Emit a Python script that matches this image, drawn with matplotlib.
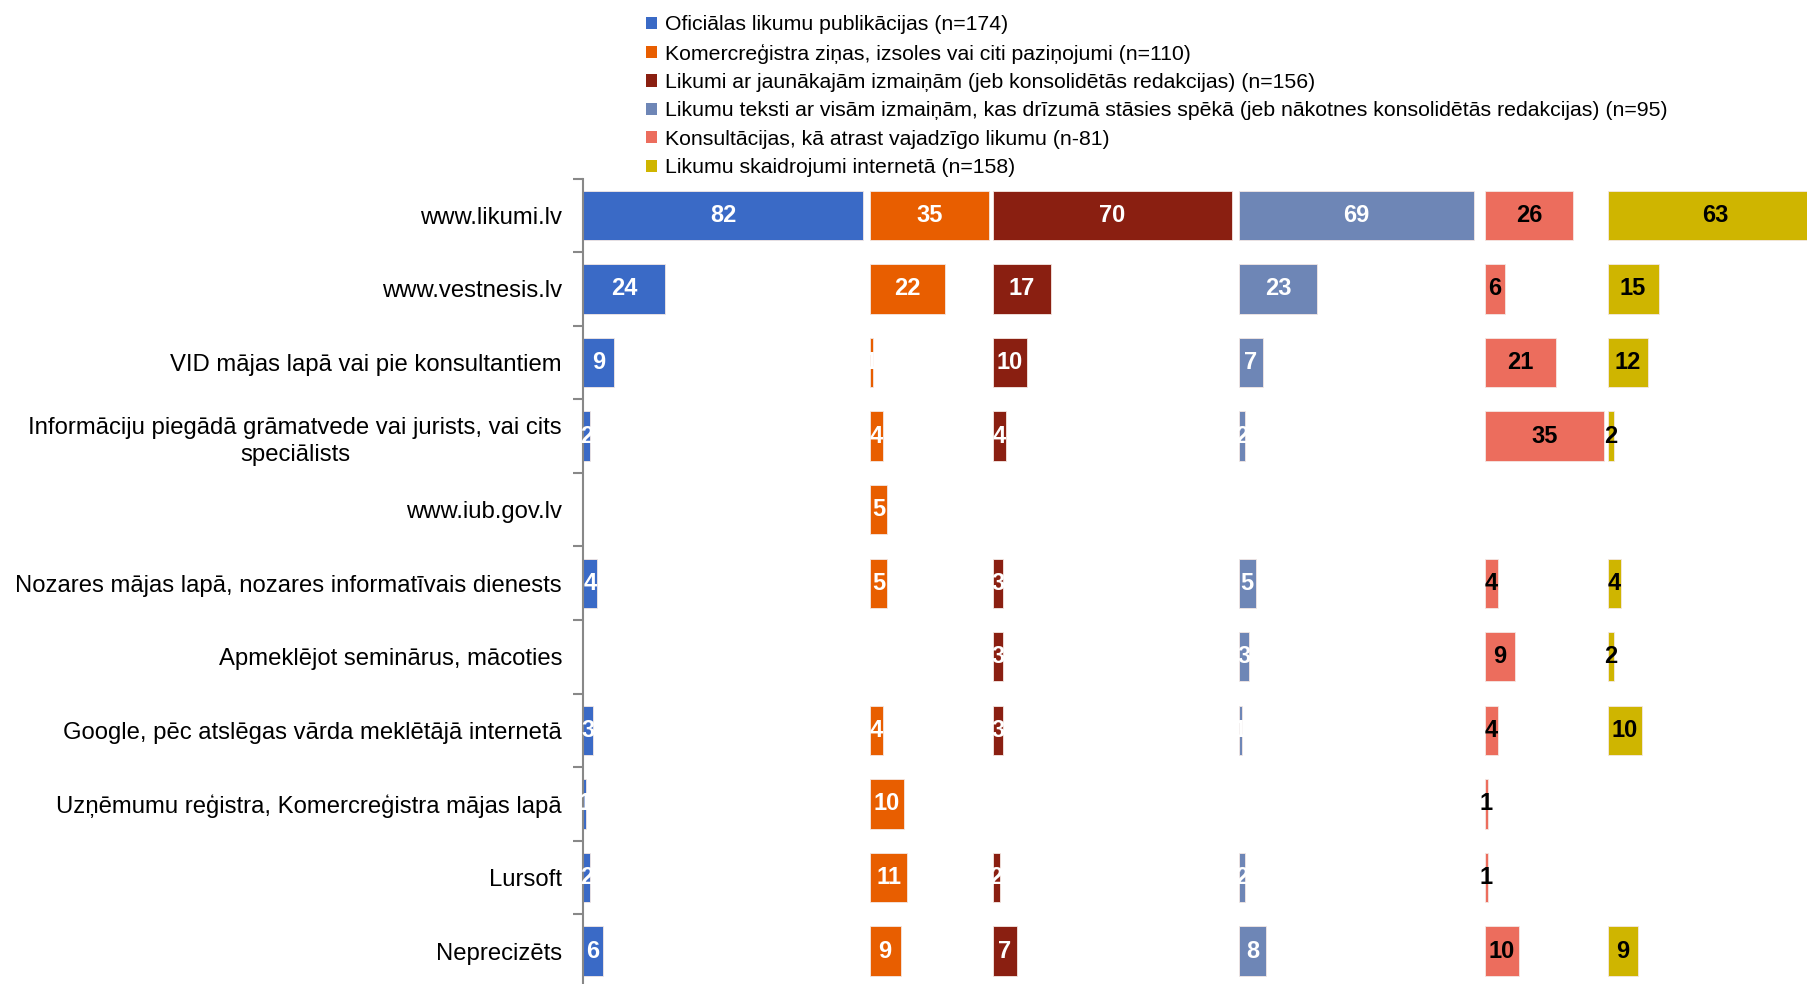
import numpy as np
import matplotlib
matplotlib.use("Agg")
import matplotlib.pyplot as plt
from matplotlib.patches import Patch

plt.rcParams['font.family'] = ['Liberation Sans', 'DejaVu Sans']

# Kategorijas (avoti)
categories = [
    "www.likumi.lv",
    "www.vestnesis.lv",
    "VID mājas lapā vai pie konsultantiem",
    "Informāciju piegādā grāmatvede vai jurists, vai cits\nspeciālists",
    "www.iub.gov.lv",
    "Nozares mājas lapā, nozares informatīvais dienests",
    "Apmeklējot seminārus, mācoties",
    "Google, pēc atslēgas vārda meklētājā internetā",
    "Uzņēmumu reģistra, Komercreģistra mājas lapā",
    "Lursoft",
    "Neprecizēts",
]

series_names = [
    "Oficiālas likumu publikācijas (n=174)",
    "Komercreģistra ziņas, izsoles vai citi paziņojumi (n=110)",
    "Likumi ar jaunākajām izmaiņām (jeb konsolidētās redakcijas) (n=156)",
    "Likumu teksti ar visām izmaiņām, kas drīzumā stāsies spēkā (jeb nākotnes konsolidētās redakcijas) (n=95)",
    "Konsultācijas, kā atrast vajadzīgo likumu (n-81)",
    "Likumu skaidrojumi internetā (n=158)",
]

oficialas = [82, 24, 9, 2, 0, 4, 0, 3, 1, 2, 6]
komercregistrs = [35, 22, 1, 4, 5, 5, 0, 4, 10, 11, 9]
jaunakas = [70, 17, 10, 4, 0, 3, 3, 3, 0, 2, 7]
nakotnes = [69, 23, 7, 2, 0, 5, 3, 1, 0, 2, 8]
konsultacijas = [26, 6, 21, 35, 0, 4, 9, 4, 1, 1, 10]
skaidrojumi = [63, 15, 12, 2, 0, 4, 2, 10, 0, 0, 9]

all_series = [oficialas, komercregistrs, jaunakas, nakotnes, konsultacijas, skaidrojumi]

# katras sērijas kolonnas sākums (max vērtība + atstarpe)
column_starts = [0, 84, 120, 192, 264, 300]

colors = ["#3A6AC6", "#E85E00", "#8A1F11", "#6E86B6", "#EC6D5D", "#CFB500"]
label_colors = ["white", "white", "white", "white", "black", "black"]

fig = plt.figure(figsize=(18.07, 9.84), dpi=100)
ax = fig.add_axes([0.3226, -0.004, 0.6993, 0.8225])

y = np.arange(len(categories))

for s, vals in enumerate(all_series):
    vals = np.array(vals)
    nz = vals > 0
    # nulles vērtības nezīmējam
    ax.barh(y[nz], vals[nz], left=column_starts[s], height=0.67, color=colors[s],
            edgecolor="#F4E8E4", linewidth=0.6)
    for i, v in enumerate(vals):
        if v > 0:
            ax.text(column_starts[s] + v / 2, y[i], str(v), ha="center", va="center",
                    fontsize=17, fontweight="bold", color=label_colors[s])

ax.set_xlim(0, 370)
ax.set_ylim(len(categories) - 0.5, -0.5)
ax.set_yticks(y)
ax.set_yticklabels(categories, fontsize=17.2)
ax.set_yticks(np.arange(len(categories) + 1) - 0.5, minor=True)
ax.tick_params(axis="y", which="major", length=0, pad=15)
ax.tick_params(axis="y", which="minor", length=7, color="#888888", width=1.5)
ax.set_xticks([])
for side in ["top", "right", "bottom"]:
    ax.spines[side].set_visible(False)
ax.spines["left"].set_color("#888888")
ax.spines["left"].set_linewidth(1.5)

# garās etiķetes: rindas centrētas
for lbl in ax.get_yticklabels():
    lbl.set_horizontalalignment("right")
    lbl.set_multialignment("center")
    lbl.set_linespacing(1.3)

handles = [Patch(facecolor=c) for c in colors]
fig.legend(handles, series_names, loc="upper left", bbox_to_anchor=(0.353, 0.993),
           frameon=False, fontsize=15.3, handlelength=0.5, handleheight=0.5,
           handletextpad=0.4, labelspacing=0.44, borderaxespad=0)

fig.savefig("out.png", dpi=100)
